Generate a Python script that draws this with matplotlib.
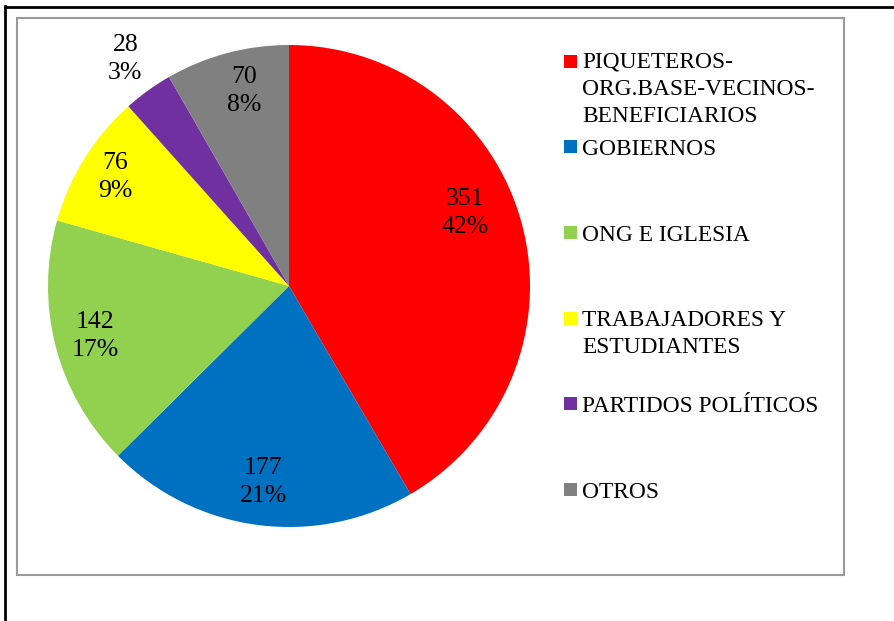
import numpy as np
import matplotlib.pyplot as plt
from matplotlib.patches import Rectangle

# data
labels = ["PIQUETEROS-\nORG.BASE-VECINOS-\nBENEFICIARIOS", "GOBIERNOS", "ONG E IGLESIA",
          "TRABAJADORES Y\nESTUDIANTES", "PARTIDOS POLÍTICOS", "OTROS"]
values = [351, 177, 142, 76, 28, 70]
colors = ["#FF0000", "#0070C0", "#92D050", "#FFFF00", "#7030A0", "#808080"]

# label placement (radius as fraction, angle tweak in degrees) - Excel "best fit" look
label_r = [0.79, 0.82, 0.83, 0.85, 1.16, 0.83]
label_dang = [7.5, 0, 0, 0, 0, -2]
# legend baselines of first line (px from top), line pitch in px
legend_base = [70, 155, 241, 327, 412, 498]
line_pitch = 26

W, H = 895, 621
plt.rcParams['font.family'] = ['Liberation Serif', 'DejaVu Serif']

fig = plt.figure(figsize=(W / 100, H / 100), dpi=100)


def fx(px):
    return px / W


def fy(py):
    return 1 - py / H


# outer black frame (top + left only) and grey chart area box
fig.add_artist(plt.Line2D([fx(5), fx(W)], [fy(6.5), fy(6.5)], color="black", lw=2))
fig.add_artist(plt.Line2D([fx(5.5), fx(5.5)], [fy(6), fy(H)], color="black", lw=2))
fig.add_artist(Rectangle((fx(17.5), fy(575)), fx(844) - fx(17.5), fy(18) - fy(575),
                         fill=False, edgecolor="#9A9A9A", lw=1.5))

# pie axes: centre (289, 286), radius 241 px
cx, cy, r = 289, 286, 241
ax = fig.add_axes([fx(cx - r), fy(cy + r), 2 * r / W, 2 * r / H])
wedges, _ = ax.pie(values, colors=colors, startangle=90, counterclock=False,
                   wedgeprops=dict(linewidth=0))
ax.set_xlim(-1, 1)
ax.set_ylim(-1, 1)
ax.axis("off")

total = sum(values)
for i, w in enumerate(wedges):
    ang = np.deg2rad((w.theta1 + w.theta2) / 2 + label_dang[i])
    pct = round(100 * values[i] / total)
    ax.text(label_r[i] * np.cos(ang), label_r[i] * np.sin(ang), f"{values[i]}\n{pct}%",
            ha="center", va="center", fontsize=18.5, linespacing=1.35, clip_on=False)

# legend drawn Excel-style
for i, lab in enumerate(labels):
    b = legend_base[i]
    nlines = lab.count("\n") + 1
    fig.add_artist(Rectangle((fx(564), fy(b - 2)), 13 / W, 13 / H,
                             facecolor=colors[i], edgecolor="none"))
    fig.text(fx(582), fy(b + (nlines - 1) * line_pitch), lab, fontsize=16.8,
             va="baseline", ha="left", linespacing=1.4)

fig.savefig("out.png", dpi=100)
